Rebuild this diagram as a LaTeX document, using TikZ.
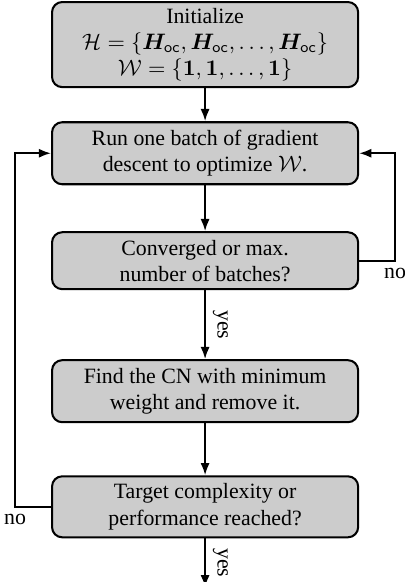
\documentclass[tikz,border=0pt]{standalone}
\usepackage{amsmath}
\usepackage{amssymb}
\usepackage{bm}
\usepackage{fontspec}
\setmainfont{Liberation Serif}
\usepackage{tikz}
\usetikzlibrary{arrows.meta, positioning}

\begin{document}
\begin{tikzpicture}[
  font=\fontsize{10.7pt}{12.8pt}\selectfont,
  block/.style={draw, line width=1pt, rounded corners=5pt, fill=black!20, text width=144pt,
    inner sep=3pt, align=flush center},
  arrow/.style={-{Latex[length=6pt,width=4.5pt]}, line width=1pt}
]
  \useasboundingbox (0,0) rectangle (198pt,-285.2pt);

  \node[block, minimum height=41.7pt, inner ysep=0.5pt, anchor=north] (init) at (100.5pt,-0.5pt)
    {Initialize\\
     $\mathcal{H}=\{\bm{H}_{\mathsf{oc}},\bm{H}_{\mathsf{oc}},\ldots,\bm{H}_{\mathsf{oc}}\}$\\
     $\mathcal{W}=\{\bm{1},\bm{1},\ldots,\bm{1}\}$};
  \node[block, minimum height=30.4pt, below=16.2pt of init] (run)
    {Run one batch of gradient\\ descent to optimize $\mathcal{W}$.};
  \node[block, minimum height=27.9pt, below=22.5pt of run] (conv)
    {Converged or max.\\ number of batches?};
  \node[block, minimum height=30.4pt, below=33.8pt of conv] (prune)
    {Find the CN with minimum\\ weight and remove it.};
  \node[block, minimum height=29.9pt, below=25.5pt of prune] (target)
    {Target complexity or\\ performance reached?};
  \coordinate[below=24pt of target] (done);

  \draw[arrow] (init) -- (run);
  \draw[arrow] (run) -- (conv);
  \draw[arrow] (conv) -- node[sloped, above] {yes} (prune);
  \draw[arrow] (prune) -- (target);
  \draw[arrow] (target) -- node[sloped, above] {yes} (done);

  % feedback loops
  \draw[arrow] (conv.east) -- ++(17.6pt,0) node[below] {no} |- (run.east);
  \draw[arrow] (target.west) -- ++(-17.6pt,0) node[below] {no} |- (run.west);
\end{tikzpicture}
\end{document}
